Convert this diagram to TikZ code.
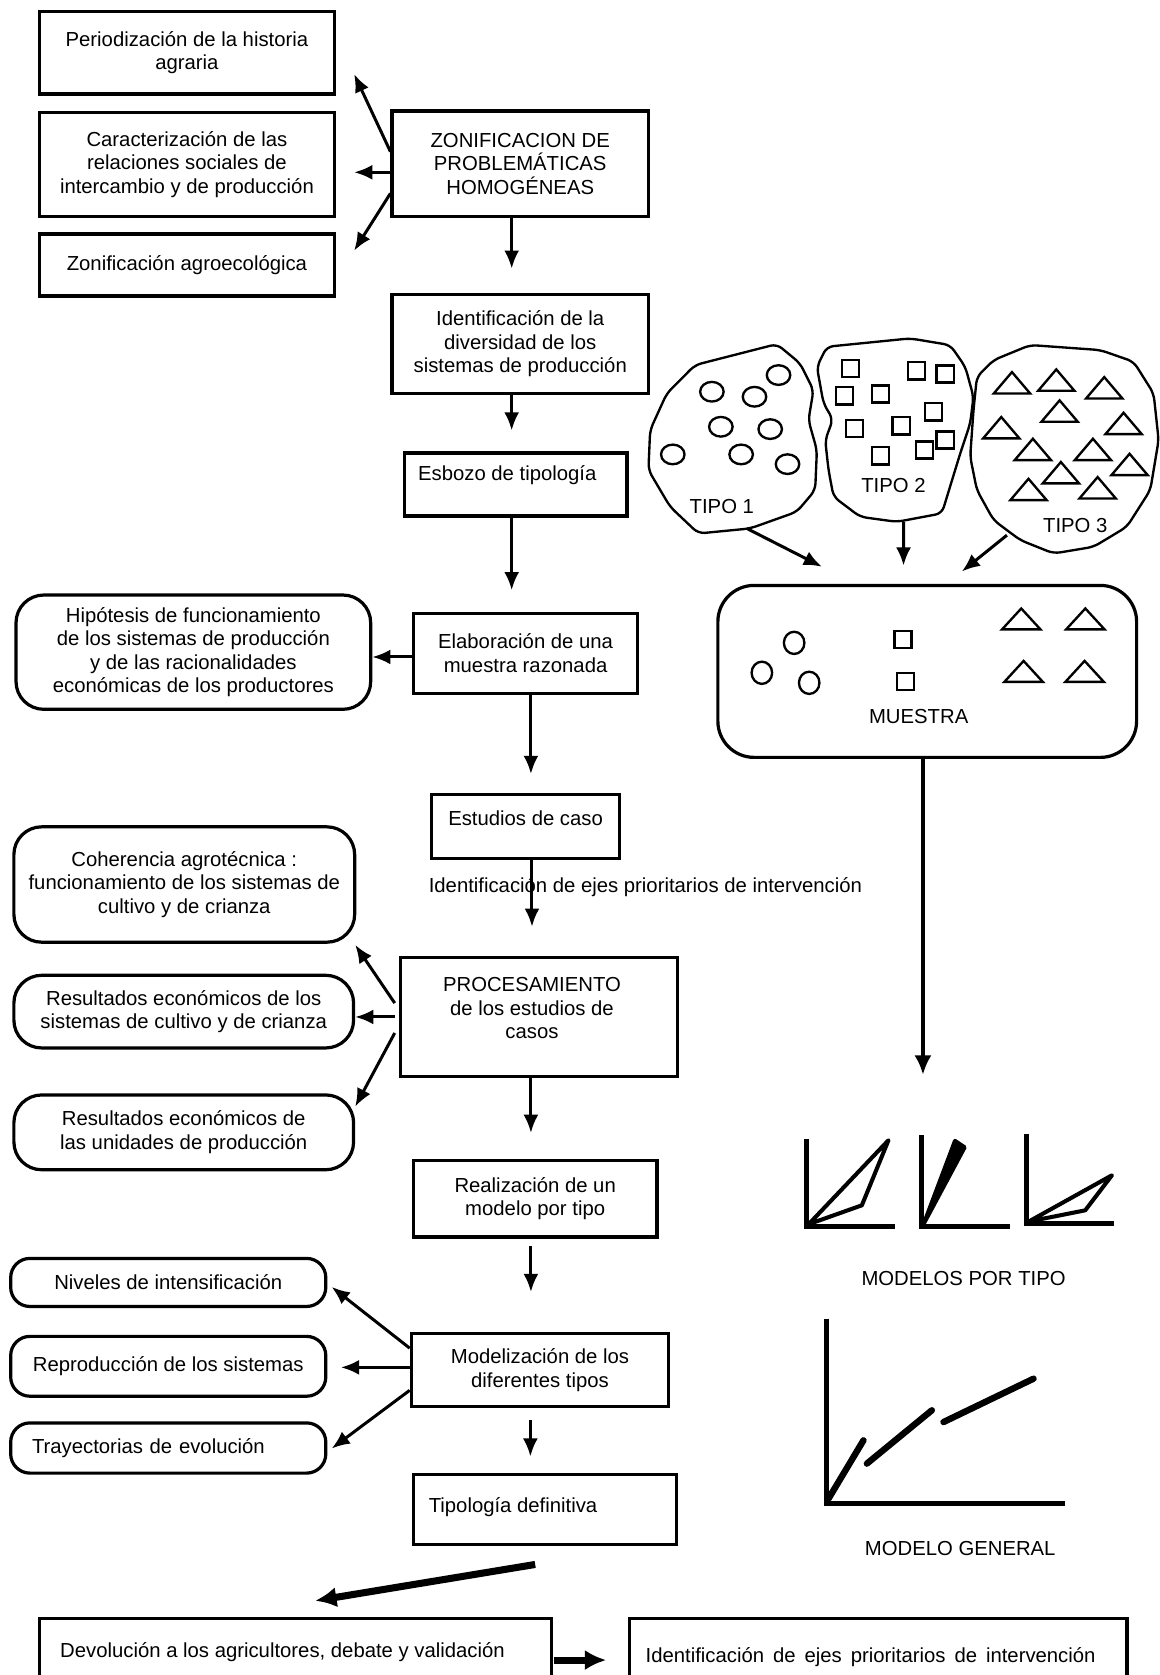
\documentclass[tikz,border=0pt]{standalone}
\usepackage{fontspec}
\setmainfont{Liberation Sans}
\usetikzlibrary{arrows.meta,calc}

\begin{document}
\begin{tikzpicture}[x=0.5pt,y=-0.5pt,
  font=\fontsize{9.5}{11}\selectfont,
  wh/.style 2 args={minimum width=#1*0.5pt, minimum height=#2*0.5pt},
  box/.style={draw, line width=1.5pt, inner sep=0pt, align=center},
  rbox/.style={box, rounded corners=13pt},
  sbox/.style={box, rounded corners=9pt},
  txt/.style={inner sep=0pt, align=center},
  arr/.style={line width=1.4pt, -{Latex[length=8.5pt,width=7pt]}},
  bigarr/.style={line width=3.3pt, -{Latex[length=10pt,width=9.5pt]}},
  axisline/.style={line width=2.3pt, line join=miter},
  modelline/.style={line width=1.9pt, line join=round},
  blob/.style={line width=1.1pt, line join=round, rounded corners=3pt},
  glyph/.style={line width=1.1pt},
]
\fill[white] (0,0) rectangle (1085,1568);
\useasboundingbox (0,0) rectangle (1085,1568);

% ---------- main flow, left and centre ----------
\node[box, wh={276}{77}] (b1) at (175,49.5) {Periodización de la historia\\agraria};
\node[box, wh={276}{98}] (b2) at (175,154) {Caracterización de las\\relaciones sociales de\\intercambio y de producción};
\node[box, wh={276}{58}] (b3) at (175,248) {Zonificación agroecológica};
\node[box, wh={240}{99}] (zon) at (487,153.5) {ZONIFICACION DE\\PROBLEMÁTICAS\\HOMOGÉNEAS};
\node[box, wh={240}{92}] (div) at (487,322) {Identificación de la\\diversidad de los\\sistemas de producción};
\node[box, wh={208}{59}] (esb) at (483,453.5) {};
\node[txt, anchor=west] (esbt) at (391,445) {Esbozo de tipología};
\node[box, wh={210}{75}] (ela) at (492,611.5) {Elaboración de una\\muestra razonada};
\node[rbox, wh={332}{107}] (hip) at (181,610.5) {Hipótesis de funcionamiento\\de los sistemas de producción\\y de las racionalidades\\económicas de los productores};
\node[box, wh={176}{60}] (est) at (492,774) {};
\node[txt] (estt) at (492,766) {Estudios de caso};
\node[txt, anchor=west] (ejes) at (401,830) {Identificación de ejes prioritarios de intervención};
\node[rbox, wh={319}{108}] (coh) at (172.5,828) {Coherencia agrotécnica :\\funcionamiento de los sistemas de\\cultivo y de crianza};
\node[box, wh={259}{112}] (proc) at (504.5,952) {};
\node[txt] (proct) at (498,944) {PROCESAMIENTO\\de los estudios de\\casos};
\node[rbox, wh={318}{68}] (res1) at (172,947) {Resultados económicos de los\\sistemas de cultivo y de crianza};
\node[rbox, wh={318}{70}] (res2) at (172,1060) {Resultados económicos de\\las unidades de producción};
\node[box, wh={228}{72}] (real) at (501,1122) {Realización de un\\modelo por tipo};
\node[box, wh={241}{69}] (mod) at (505.5,1282.5) {Modelización de los\\diferentes tipos};
\node[sbox, wh={295}{45}] (niv) at (157.5,1200.5) {Niveles de intensificación};
\node[sbox, wh={295}{56}] (rep) at (157.5,1279) {Reproducción de los sistemas};
\node[sbox, wh={295}{47}, inner xsep=10pt, text width=127.5pt, align=left] (tra) at (157.5,1355.5) {Trayectorias de evolución};
\node[box, wh={246}{66}] (tip) at (510,1413) {};
\node[txt, anchor=west] (tipt) at (401,1410.6) {Tipología definitiva};
\node[box, wh={479}{90}] (dev) at (276.5,1560) {};
\node[txt, anchor=west] (devt) at (56,1546.5) {Devolución a los agricultores, debate y validación};
\node[box, wh={466}{90}] (idf) at (822,1560) {};
\node[txt, anchor=west, font={\fontsize{9.5}{11}\selectfont\spaceskip=4.2pt plus 1pt}] (idft) at (604,1551) {Identificación de ejes prioritarios de intervención};

% ---------- connectors of the main flow ----------
\draw[arr] ($(zon.west)+(0,-11.5)$) -- ($(b1.east)+(17,19.8)$);
\draw[arr] ($(zon.west)+(0,7.8)$) -- ($(b2.east)+(17,7.3)$);
\draw[arr] ($(zon.west)+(0,27.5)$) -- ($(b3.east)+(17,-13.3)$);
\draw[arr] ($(zon.south)+(-8,0)$) -- ($(div.north)+(-8,-23)$);
\draw[arr] ($(div.south)+(-8,0)$) -- ($(esb.north)+(-4,-19.5)$);
\draw[arr] ($(esb.south)+(-4,0)$) -- ($(ela.north)+(-13,-20)$);
\draw[arr] ($(ela.west)+(0,3.5)$) -- ($(hip.east)+(0,4.5)$);
\draw[arr] ($(ela.south)+(5,0)$) -- ($(est.north)+(5,-18)$);
\draw[arr] ($(est.south)+(6,0)$) -- ($(proc.north)+(-6.5,-27)$);
\draw[arr] ($(proc.west)+(-4,-13)$) -- ($(coh.south east)+(-1,1)$);
\draw[arr] ($(proc.west)+(-4,0)$) -- ($(res1.east)+(0,5)$);
\draw[arr] ($(proc.west)+(-4,15)$) -- ($(res2.east)+(0,-24)$);
\draw[arr] ($(proc.south)+(-7.5,0)$) -- ($(real.north)+(-4,-24)$);
\draw[arr] ($(real.south)+(-4,7)$) -- ($(mod.north)+(-8.5,-37)$);
\draw[arr] ($(mod.west)+(0,-20.5)$) -- ($(niv.east)+(4,4.2)$);
\draw[arr] ($(mod.west)+(0,-2.5)$) -- ($(rep.east)+(12.6,1)$);
\draw[arr] ($(mod.west)+(0,19)$) -- ($(tra.east)+(4,0.5)$);
\draw[arr] ($(mod.south)+(-9,11)$) -- ($(tip.north)+(-13.5,-15)$);
\draw[bigarr] ($(tip.south)+(-9,17)$) -- ($(dev.north)+(18.5,-15)$);
\draw[bigarr] ($(dev.east)+(1,-6)$) -- ($(idf.west)+(-20,-6)$);

% ---------- the three types ----------
\draw[blob] (727.2,322.1) -- (650.7,341.7) -- (624.2,368.3) -- (608.6,402.6) -- (607,440)
  -- (627.3,474.4) -- (653.8,499.4) -- (702.2,494.7) -- (745.9,479.1) -- (763.1,458.8)
  -- (764.7,421.3) -- (756.8,393.3) -- (761.5,365.2) -- (749,340.2) -- cycle;
\draw[blob] (774,324.6) -- (852,316.8) -- (889.5,323) -- (903.6,343.3) -- (911.3,371.4)
  -- (908.2,396.4) -- (898.9,424.4) -- (881.7,480.6) -- (839.6,488.5) -- (805.2,483.8)
  -- (780.3,465) -- (775.6,440) -- (772.5,412) -- (779.7,392.6) -- (770.9,377.6)
  -- (764.7,343.3) -- cycle;
\draw[blob] (964.4,323) -- (1030,327.7) -- (1061.2,338.6) -- (1079.9,368.3) -- (1084.6,412)
  -- (1076.8,458.8) -- (1054.9,493.1) -- (1023.7,511.9) -- (986.3,518.1) -- (955.1,505.6)
  -- (930.1,486.9) -- (914.5,458.8) -- (908.2,427.6) -- (911.3,383.9) -- (914.5,352.7)
  -- (930.1,337.1) -- cycle;

\foreach \p in {(728.8,351.1),(666.4,366.7),(706.3,371.4),(674.8,399.5),(721,401.7),
                (629.8,425.4),(693.8,425.4),(737.2,434.5)}
  \draw[glyph] \p ellipse[x radius=5.5pt, y radius=4.6pt];
\foreach \p in {(795.9,344.9),(857.7,347.1),(884.8,350.2),(790.6,370.5),(824,368.9),
                (873.9,385.5),(799.9,401),(843.6,398.6),(884.8,412),(824,426.7),(865.2,421.3)}
  \draw[glyph] \p ++(-8,-8) rectangle ++(16,16);
\foreach \p in {(947.3,368.3),(988.8,365.8),(1033.7,373),(991.9,394.8),(1051.8,406.4),
                (937.3,410.4),(966.9,430.7),(1023.1,430.7),(1057.4,444.8),(993.1,452.5),
                (962.8,468.2),(1027.5,466.6)}
  \draw[glyph, line join=miter] \p ++(-17,0) -- ++(34,0) -- ++(-17,-20) -- cycle;

\node[txt] (t1) at (675.7,474.4) {TIPO 1};
\node[txt] (t2) at (836.4,454.1) {TIPO 2};
\node[txt] (t3) at (1006.6,491.6) {TIPO 3};

% ---------- the sample ----------
\node[draw, line width=1.5pt, rounded corners=17pt, wh={392}{161}] (mue) at (868,628.5) {};
\node[txt] (muet) at (860,671) {MUESTRA};
\foreach \p in {(743.4,601.8),(713.2,629.8),(757.5,639.2)}
  \draw[glyph] \p ellipse[x radius=4.8pt, y radius=5.2pt];
\foreach \p in {(845.2,598.6),(847.4,638.2)}
  \draw[glyph] \p ++(-8,-8) rectangle ++(16,16);
\foreach \p in {(956,589.2),(1016,589.2),(958.2,638.3),(1015.3,638.3)}
  \draw[glyph, line join=miter] \p ++(-18,0) -- ++(36,0) -- ++(-18,-19.6) -- cycle;

\coordinate (s1) at (699.1,494.7);
\coordinate (s2) at (845.8,488.5);
\coordinate (s3) at (942.6,501);
\draw[arr] (s1) -- ($(mue.north west)+(98.9,-16)$);
\draw[arr] (s2) -- ($(mue.north)+(-22.2,-17)$);
\draw[arr] (s3) -- ($(mue.north)+(32.4,-11.5)$);

\coordinate (mend) at (864,1006);
\draw[line width=1.6pt, -{Latex[length=9pt,width=8pt]}] ($(mue.south)+(-4,0)$) -- (mend);

% ---------- models per type ----------
\draw[axisline] (755.3,1065.8) -- (755.3,1148.5) -- (838,1148.5);
\draw[modelline] (757,1146) -- (831.7,1067.4) -- (806.8,1128.3) -- cycle;
\draw[axisline] (863,1062.7) -- (863,1147.9) -- (945.7,1147.9);
\draw[modelline, fill] (865,1145) -- (894,1068) -- (903,1074) -- cycle;
\draw[axisline] (961.3,1061.2) -- (961.3,1145.4) -- (1042.4,1145.4);
\draw[modelline] (963,1143.5) -- (1040.9,1100.2) -- (1015.9,1133) -- cycle;
\node[txt] (mpt) at (902,1196.9) {MODELOS POR TIPO};

% ---------- general model ----------
\draw[axisline] (774,1234.4) -- (774,1407.6) -- (997.2,1407.6);
\draw[line width=3pt, line cap=round] (775.6,1402.9) -- (808.3,1348.3);
\draw[line width=3pt, line cap=round] (811.5,1370.1) -- (872.3,1320.2);
\draw[line width=3pt, line cap=round] (883.2,1331.2) -- (967.5,1290.6);
\node[txt] (mg) at (898.9,1449.7) {MODELO GENERAL};

\end{tikzpicture}
\end{document}
